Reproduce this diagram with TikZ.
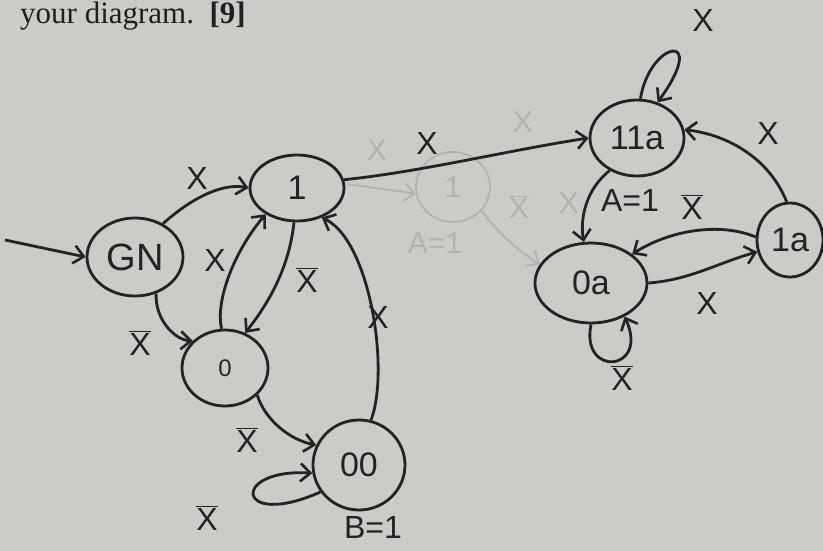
\documentclass[tikz,border=0pt]{standalone}
\usepackage{fontspec}
\setmainfont{Liberation Serif}
\newfontfamily\hand{Liberation Sans}
\usetikzlibrary{shapes.geometric,arrows.meta}
\definecolor{paper}{RGB}{203,203,199}
\definecolor{ink}{RGB}{35,35,35}
\definecolor{faint}{RGB}{178,178,176}
\begin{document}
\begin{tikzpicture}[x=1pt,y=-1pt,
  st/.style={ellipse,draw=ink,line width=2.8pt,inner sep=0pt,text=ink,font=\hand\fontsize{34}{34}\selectfont},
  gst/.style={ellipse,draw=faint,line width=1.8pt,inner sep=0pt,text=faint,font=\hand\fontsize{30}{30}\selectfont},
  ed/.style={draw=ink,line width=2.8pt,-{Straight Barb[length=10pt,width=18pt,line width=2.6pt]}},
  ged/.style={draw=faint,line width=1.8pt,-{Straight Barb[length=10pt,width=18pt,line width=1.8pt]}},
  lab/.style={text=ink,font=\hand\fontsize{32}{32}\selectfont,inner sep=0pt},
  glab/.style={text=faint,font=\hand\fontsize{30}{30}\selectfont,inner sep=0pt}]
\fill[paper] (0,0) rectangle (823,551);
\useasboundingbox (0,0) rectangle (823,551);
% header
\node[anchor=base west,inner sep=0pt,font=\fontsize{31}{31}\selectfont,text=black!88] (hdr) at (20,24) {your diagram.\ \ \textbf{[9]}};
% ghost (erased) part
\node[gst,minimum width=74pt,minimum height=70pt] (ghost) at (453,187) {1};
\node[glab] (gA) at (435,243) {A=1};
\node[glab] (gx1) at (377,150) {X};
\node[glab] (gx2) at (523,122) {X};
\node[glab] (gx3) at (519,207) {$\overline{\hbox{X}}$};
\node[glab] (gx4) at (569,203) {X};
% states
\coordinate (start) at (5,240);
\node[st,minimum width=96pt,minimum height=78pt,font=\hand\fontsize{38}{38}\selectfont] (GN) at (135,257) {GN};
\node[st,minimum width=94pt,minimum height=66pt] (n1) at (297,188) {1};
\node[st,minimum width=86pt,minimum height=76pt,font=\hand\fontsize{24}{24}\selectfont] (n0) at (225,368) {0};
\node[st,minimum width=92pt,minimum height=90pt] (n00) at (359,465) {00};
\node[st,minimum width=94pt,minimum height=76pt] (n11a) at (637,138) {11a};
\node[st,minimum width=112pt,minimum height=80pt] (n0a) at (591,283) {0a};
\node[st,minimum width=66pt,minimum height=74pt] (n1a) at (790,240) {1a};
% ghost edges
\draw[ged] (n1.5) -- (ghost.190);
\draw[ged] (ghost.-40) .. controls (500,235) and (520,252) .. (n0a.160);
% edges left
\draw[ed] (start) -- (GN.west);
\draw[ed] (GN.50) .. controls (195,195) and (225,183) .. (n1.west);
\draw[ed] (GN.-60) .. controls (155,320) and (175,340) .. (n0.140);
\draw[ed] (n0.95) .. controls (215,300) and (235,250) .. (n1.220);
\draw[ed] (n1.265) .. controls (290,260) and (275,295) .. (n0.60);
\draw[ed] (n0.-40) .. controls (265,420) and (290,440) .. (n00.155);
\draw[ed] (n00.75) .. controls (390,370) and (370,240) .. (n1.-50);
\draw[ed] (n00.215) .. controls (235,530) and (230,468) .. (n00.190);
% edges right
\draw[ed] (n1.10) .. controls (420,172) and (510,150) .. (n11a.west);
\draw[ed] (n11a.85) .. controls (650,40) and (710,30) .. (n11a.60);
\draw[ed] (n11a.230) .. controls (585,190) and (580,220) .. (n0a.100);
\draw[ed] (n1a.95) .. controls (770,160) and (730,135) .. (n11a.10);
\draw[ed] (n1a.175) .. controls (720,222) and (670,230) .. (n0a.35);
\draw[ed] (n0a.east) .. controls (690,280) and (720,262) .. (n1a.200);
\draw[ed] (n0a.-90) .. controls (580,378) and (650,372) .. (n0a.-45);
% labels
\node[lab] (l1) at (197,178) {X};
\node[lab] (l2) at (215,260) {X};
\node[lab] (l3) at (307,280) {$\overline{\hbox{X}}$};
\node[lab] (l4) at (140,343) {$\overline{\hbox{X}}$};
\node[lab] (l5) at (247,440) {$\overline{\hbox{X}}$};
\node[lab] (l6) at (378,317) {X};
\node[lab] (l7) at (207,518) {$\overline{\hbox{X}}$};
\node[lab] (l8) at (373,527) {B=1};
\node[lab] (l9) at (427,143) {X};
\node[lab] (l10) at (703,20) {X};
\node[lab] (l11) at (768,133) {X};
\node[lab] (l12) at (630,200) {A=1};
\node[lab] (l13) at (692,207) {$\overline{\hbox{X}}$};
\node[lab] (l14) at (707,303) {X};
\node[lab] (l15) at (622,378) {$\overline{\hbox{X}}$};
\end{tikzpicture}
\end{document}
